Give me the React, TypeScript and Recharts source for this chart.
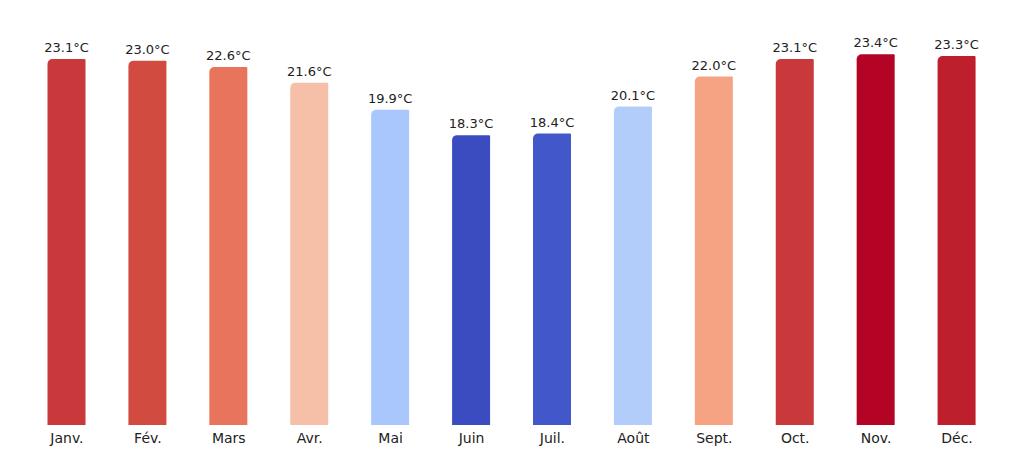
import React from "react";
import { BarChart, Bar, XAxis, YAxis, Cell, LabelList } from "recharts";

const months = ["Janv.", "Fév.", "Mars", "Avr.", "Mai", "Juin", "Juil.", "Août", "Sept.", "Oct.", "Nov.", "Déc."];
const temps = [23.1, 23.0, 22.6, 21.6, 19.9, 18.3, 18.4, 20.1, 22.0, 23.1, 23.4, 23.3];
const colors = ["#c9383a", "#d24b40", "#e7745b", "#f5c0a7", "#a9c6fd", "#3b4cc0", "#4257c9", "#b3cdfb", "#f5a383", "#c9383a", "#b40426", "#bd1f2d"];

const data = months.map((m, i) => ({ month: m, temp: temps[i] }));

export default function App() {
  return (
    <div style={{ position: "absolute", left: 0, top: 0, background: "#fff" }}>
      <BarChart
        width={1024}
        height={454}
        data={data}
        margin={{ top: 29, right: 26.5, left: 26.5, bottom: 0 }}
        barSize={38}
      >
        <XAxis
          dataKey="month"
          height={29}
          axisLine={false}
          tickLine={false}
          interval={0}
          tick={{ fontSize: 14, fill: "#222", fontFamily: "DejaVu Sans" }}
          tickMargin={2}
        />
        <YAxis hide domain={[0, 25]} />
        <Bar dataKey="temp" isAnimationActive={false} radius={[5, 1, 0, 0]}>
          {data.map((d, i) => (
            <Cell key={i} fill={colors[i]} />
          ))}
          <LabelList
            dataKey="temp"
            position="top"
            offset={7}
            formatter={(v: number) => `${v.toFixed(1)}°C`}
            style={{ fontSize: 13, fill: "#222", fontFamily: "DejaVu Sans" }}
          />
        </Bar>
      </BarChart>
    </div>
  );
}
